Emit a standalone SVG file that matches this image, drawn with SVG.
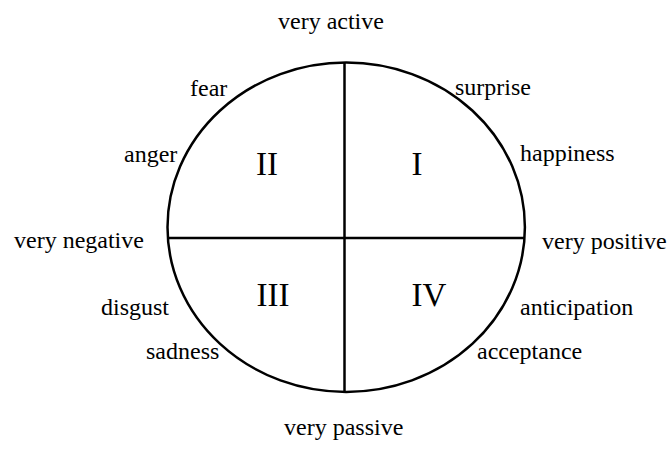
<svg xmlns="http://www.w3.org/2000/svg" width="672" height="449" viewBox="0 0 672 449">
<style>
.lbl{font-family:"Liberation Serif","Times New Roman",serif;font-size:24px;fill:#000}
.num{font-family:"Liberation Serif","Times New Roman",serif;font-size:33px;fill:#000;text-anchor:middle}
.ln{stroke:#000;stroke-width:2.5;fill:none}
</style>
<rect width="672" height="449" fill="#fff"/>
<g id="connectors">
<ellipse class="ln" cx="346.2" cy="227.2" rx="178.7" ry="164.7"/>
<line class="ln" x1="344.5" y1="62.5" x2="344.5" y2="392"/>
<line class="ln" x1="167.5" y1="238" x2="525" y2="238"/>
</g>
<g id="q1"><text class="num" x="417" y="175">I</text></g>
<g id="q2"><text class="num" x="267" y="175">II</text></g>
<g id="q3"><text class="num" x="273" y="306">III</text></g>
<g id="q4"><text class="num" x="429" y="306">IV</text></g>
<g id="very-active"><text class="lbl" x="278" y="29">very active</text></g>
<g id="very-passive"><text class="lbl" x="284" y="435">very passive</text></g>
<g id="very-negative"><text class="lbl" x="14" y="248">very negative</text></g>
<g id="very-positive"><text class="lbl" x="542" y="249">very positive</text></g>
<g id="fear"><text class="lbl" x="190" y="96">fear</text></g>
<g id="anger"><text class="lbl" x="124" y="162">anger</text></g>
<g id="disgust"><text class="lbl" x="101" y="315">disgust</text></g>
<g id="sadness"><text class="lbl" x="146" y="359">sadness</text></g>
<g id="surprise"><text class="lbl" x="455" y="95">surprise</text></g>
<g id="happiness"><text class="lbl" x="520" y="161">happiness</text></g>
<g id="anticipation"><text class="lbl" x="520" y="315">anticipation</text></g>
<g id="acceptance"><text class="lbl" x="477" y="359">acceptance</text></g>
</svg>
